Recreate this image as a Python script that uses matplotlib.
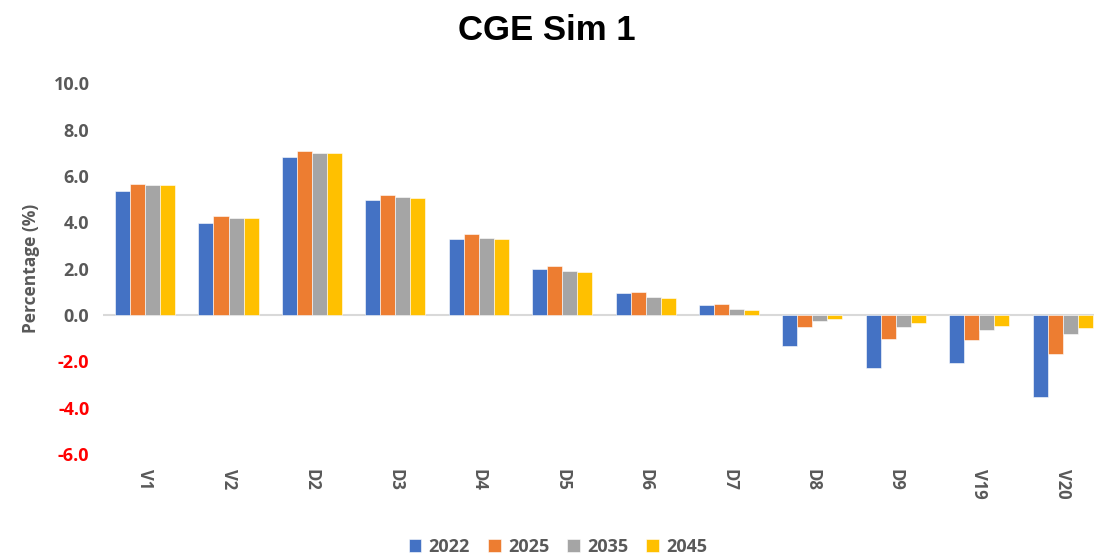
import matplotlib.pyplot as plt
import numpy as np

plt.rcParams['font.family'] = ['Open Sans', 'DejaVu Sans']

categories = ["V1", "V2", "D2", "D3", "D4", "D5", "D6", "D7", "D8", "D9", "V19", "V20"]
years = ["2022", "2025", "2035", "2045"]
v2022 = [5.36, 3.95, 6.81, 4.96, 3.30, 2.00, 0.93, 0.43, -1.34, -2.27, -2.05, -3.55]
v2025 = [5.67, 4.25, 7.07, 5.19, 3.48, 2.10, 0.99, 0.46, -0.50, -1.03, -1.09, -1.68]
v2035 = [5.62, 4.19, 6.98, 5.07, 3.32, 1.92, 0.80, 0.27, -0.24, -0.52, -0.65, -0.82]
v2045 = [5.59, 4.17, 6.97, 5.03, 3.28, 1.87, 0.73, 0.22, -0.16, -0.33, -0.49, -0.55]
series = [v2022, v2025, v2035, v2045]
colors = ["#4472C4", "#ED7D31", "#A5A5A5", "#FFC000"]
yticks = [10.0, 8.0, 6.0, 4.0, 2.0, 0.0, -2.0, -4.0, -6.0]

fig = plt.figure(figsize=(10.94, 5.58), dpi=100)
# plot area runs a little past the right edge of the figure
ax = fig.add_axes([0.0945, 0.186, 0.915, 0.665])

x = np.arange(len(categories))
w = 0.18
for i, (vals, c, lab) in enumerate(zip(series, colors, years)):
    ax.bar(x + (i - 1.5) * w, vals, w, color=c, label=lab,
           edgecolor="white", linewidth=0.4)

ax.axhline(0, color="#D9D9D9", linewidth=1.5, zorder=0)
ax.set_xlim(-0.5, len(categories) - 0.5)
ax.set_ylim(-6, 10)
ax.set_yticks(yticks)
ax.set_yticklabels([f"{v:.1f}" for v in yticks])
for lbl, v in zip(ax.get_yticklabels(), yticks):
    lbl.set_color("#FF0000" if v < 0 else "#595959")
    lbl.set_fontweight("bold")
    lbl.set_fontsize(13)

ax.set_xticks(x)
ax.set_xticklabels(categories, rotation=270, fontsize=12, fontweight="bold",
                   color="#595959")
ax.tick_params(axis="both", length=0)
ax.tick_params(axis="x", pad=11)
ax.tick_params(axis="y", pad=10)
for s in ax.spines.values():
    s.set_visible(False)

ax.set_ylabel("Percentage (%)", fontsize=12.5, fontweight="bold", color="#595959",
              labelpad=10)
fig.suptitle("CGE Sim 1", fontsize=25, fontweight="bold",
             family=["Liberation Sans", "DejaVu Sans"], y=0.975)

leg = fig.legend(loc="lower center", ncol=4, bbox_to_anchor=(0.51, -0.025),
                 frameon=False, fontsize=13, handlelength=0.7, handleheight=0.7,
                 columnspacing=1.0, handletextpad=0.4)
for t in leg.get_texts():
    t.set_color("#595959")
    t.set_fontweight("bold")

fig.savefig("out.png", dpi=100)
